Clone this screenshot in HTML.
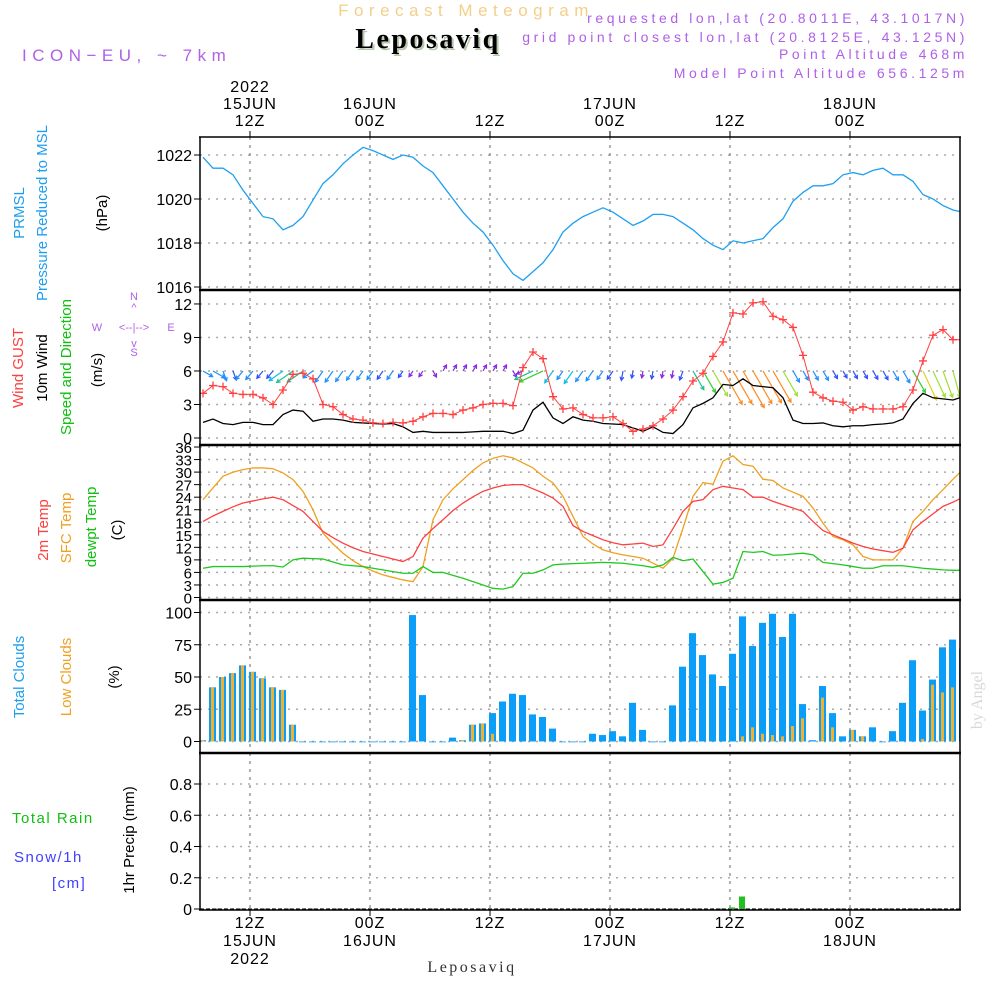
<!DOCTYPE html>
<html><head><meta charset="utf-8">
<style>
html,body{margin:0;padding:0;background:#fff;}
svg{display:block;font-family:"Liberation Sans",sans-serif;}
</style></head>
<body>
<svg id="chart" width="1000" height="1000" viewBox="0 0 1000 1000" xmlns="http://www.w3.org/2000/svg">
<defs><clipPath id="plotclip"><rect x="200" y="137" width="760" height="773"/></clipPath></defs>
<rect width="1000" height="1000" fill="#fff"/>
<text x="466" y="16" text-anchor="middle" font-size="17" fill="#f3cf8a" letter-spacing="5.5">Forecast Meteogram</text>
<text x="430" y="50" text-anchor="middle" font-size="28" font-weight="bold" font-family="Liberation Serif, serif" fill="#b8c8b0" letter-spacing="2.5">Leposaviq</text>
<text x="428" y="48" text-anchor="middle" font-size="28" font-weight="bold" font-family="Liberation Serif, serif" fill="#000" letter-spacing="2.5">Leposaviq</text>
<text x="22" y="61" font-size="17" fill="#b060e8" letter-spacing="5.5">ICON−EU, ~ 7km</text>
<g font-size="14" fill="#b060e8" text-anchor="end" letter-spacing="3.6">
<text x="968" y="23">requested lon,lat (20.8011E, 43.1017N)</text>
<text x="968" y="42">grid point closest lon,lat (20.8125E, 43.125N)</text>
<text x="968" y="59">Point Altitude 468m</text>
<text x="968" y="78">Model Point Altitude 656.125m</text>
</g>
<g font-size="15">
<text transform="translate(24,213) rotate(-90)" text-anchor="middle" fill="#1e9ef0">PRMSL</text>
<text transform="translate(47,213) rotate(-90)" text-anchor="middle" fill="#1e9ef0">Pressure Reduced to MSL</text>
<text transform="translate(107,213) rotate(-90)" text-anchor="middle" fill="#000">(hPa)</text>
<text transform="translate(23,368) rotate(-90)" text-anchor="middle" fill="#ff4040">Wind GUST</text>
<text transform="translate(47,368) rotate(-90)" text-anchor="middle" fill="#000">10m Wind</text>
<text transform="translate(71,367) rotate(-90)" text-anchor="middle" fill="#10c010">Speed and Direction</text>
<text transform="translate(102,370) rotate(-90)" text-anchor="middle" fill="#000">(m/s)</text>
<text transform="translate(48,530) rotate(-90)" text-anchor="middle" fill="#ff4040">2m Temp</text>
<text transform="translate(71,528) rotate(-90)" text-anchor="middle" fill="#f0a020">SFC Temp</text>
<text transform="translate(96,527) rotate(-90)" text-anchor="middle" fill="#10c010">dewpt Temp</text>
<text transform="translate(122,530) rotate(-90)" text-anchor="middle" fill="#000">(C)</text>
<text transform="translate(24,677) rotate(-90)" text-anchor="middle" fill="#1e9ef0">Total Clouds</text>
<text transform="translate(71,677) rotate(-90)" text-anchor="middle" fill="#f0a020">Low Clouds</text>
<text transform="translate(119,677) rotate(-90)" text-anchor="middle" fill="#000">(%)</text>
<text transform="translate(134,840) rotate(-90)" text-anchor="middle" fill="#000">1hr Precip (mm)</text>
<text x="12" y="823" fill="#10c010" letter-spacing="1.5">Total  Rain</text>
<text x="14" y="862" fill="#4040ff" letter-spacing="1.5">Snow/1h</text>
<text x="52" y="888" fill="#4040ff" letter-spacing="1.5">[cm]</text>
</g>
<g font-size="11" fill="#b060e8">
<text x="134" y="300" text-anchor="middle">N</text>
<text x="134" y="311" text-anchor="middle">^</text>
<text x="97" y="331" text-anchor="middle">W</text>
<text x="134" y="331" text-anchor="middle">&lt;--|--&gt;</text>
<text x="171" y="331" text-anchor="middle">E</text>
<text x="134" y="347" text-anchor="middle">v</text>
<text x="134" y="356" text-anchor="middle">S</text>
</g>
<text x="472" y="972" text-anchor="middle" font-size="16" font-family="Liberation Serif, serif" fill="#333" letter-spacing="2.5">Leposaviq</text>
<text transform="translate(982,700) rotate(-90)" text-anchor="middle" font-size="16" font-family="Liberation Serif, serif" fill="#d8d8d8">by Angel</text>
<g id="plot"></g>
</svg>
<script>
const pressure=[1021.9,1021.4,1021.4,1021.1,1020.4,1019.8,1019.2,1019.1,1018.6,1018.8,1019.2,1019.95,1020.7,1021.1,1021.6,1022,1022.35,1022.2,1022,1021.8,1022,1021.9,1021.5,1021.2,1020.6,1020,1019.4,1018.9,1018.5,1017.9,1017.2,1016.6,1016.3,1016.7,1017.1,1017.7,1018.5,1018.9,1019.2,1019.4,1019.6,1019.4,1019.1,1018.8,1019,1019.3,1019.3,1019.2,1018.9,1018.6,1018.2,1017.9,1017.7,1018.1,1018,1018.1,1018.2,1018.7,1019.1,1019.9,1020.3,1020.6,1020.6,1020.7,1021.1,1021.2,1021.1,1021.3,1021.4,1021.1,1021.1,1020.8,1020.2,1020,1019.7,1019.5,1019.4];
const gust=[4,4.7,4.6,4,3.9,3.9,3.6,3,4.3,5.7,5.8,5.3,3,2.8,2.1,1.7,1.6,1.35,1.3,1.4,1.35,1.5,1.9,2.2,2.2,2.1,2.5,2.7,3,3.1,3.1,2.9,6.3,7.7,7.1,3.7,2.6,2.7,2.1,1.8,1.8,1.9,1.3,0.6,0.8,1.1,1.7,2.5,3.7,5.1,5.8,7.3,8.6,11.2,11.1,12.1,12.2,10.9,10.6,9.9,7.4,4.1,3.6,3.3,3.2,2.5,2.8,2.6,2.6,2.6,2.8,4.3,6.9,9.2,9.7,8.8,8.8];
const wind10=[1.4,1.7,1.3,1.2,1.4,1.4,1.2,1.2,2.1,2.5,2.4,1.5,1.7,1.7,1.6,1.4,1.35,1.3,1.25,1.3,1,0.5,0.6,0.5,0.5,0.5,0.5,0.55,0.6,0.6,0.6,0.4,0.7,2.5,3.2,1.8,1.3,1.9,1.6,1.5,1.3,1.25,1.2,0.9,0.6,1,0.5,0.4,1.2,2.7,3.1,3.6,4.8,4.7,5.3,4.7,4.6,4.5,3.6,1.6,1.3,1.3,1.35,1.1,1,1.1,1.1,1.2,1.25,1.35,1.7,3.1,4,3.6,3.5,3.4,3.7];
const windDir=[120,120,160,160,220,220,220,220,235,235,235,235,215,215,215,215,215,215,215,215,215,215,215,150,30,30,30,30,30,30,30,150,245,245,245,215,215,215,215,215,215,215,190,190,190,190,190,190,200,150,150,150,150,150,150,150,150,150,150,150,150,150,150,150,150,150,150,150,150,150,150,150,155,155,160,165,170];
const temp2m=[18.2,19.5,20.6,21.7,22.6,23.1,23.6,24,23.4,22,20.6,18.2,15.8,14.3,13,11.9,11,10.4,9.8,9.2,8.6,9.8,14.2,16.5,18.6,20.8,22.6,24.1,25.4,26.2,26.8,27,27,26,25,23.8,21.8,17.2,15.8,14.8,13.8,13.1,12.6,12.8,13,12.2,12.6,16.5,20.6,23,23.4,25.8,26.6,26.2,25.8,24,24,23,22.2,21.4,20.6,18.2,16,15,14,13,12.2,11.6,11.2,10.8,11.8,16.2,18.2,20,21.8,22.8,24];
const tempSfc=[23.4,26.2,29,30,30.6,31,31,30.8,29.8,28.2,25.4,21,15.4,12.8,10.6,8.8,7.4,6.3,5.4,4.8,4.2,3.8,7.4,18.6,23.4,26,28.2,30.4,32.2,33.3,33.9,33.4,32.2,31,29,27.4,24.2,19.4,14.6,12.8,11.4,10.7,10.2,9.8,9.4,8.2,7,9.4,16.6,24.2,27.5,27.1,32.6,33.9,31.8,31.4,28.3,28,26.2,25.2,24.2,21.4,17.8,14.6,13.8,12.6,9.8,9,9,9,11.8,18.2,20.6,23.4,25.8,28.3,30.6];
const dewpt=[7,7.4,7.4,7.4,7.4,7.5,7.6,7.6,7.3,9,9.4,9.3,9.2,8.5,7.8,7.6,7.4,7,6.6,6.2,5.8,5.8,7.4,6,6,5.3,4.6,3.8,3,2.2,2,2.6,5.8,5.8,6.6,7.8,8,8.1,8.2,8.3,8.4,8.3,8.2,7.9,7.6,7.2,7.8,9.6,8.8,9.2,6.2,3.2,3.6,4.6,11,10.8,11,10.1,10.2,10.4,10.6,10.2,8.4,8.1,7.8,7.4,7,7,7.6,7.6,7.6,7.3,7,6.8,6.6,6.5,6.5];
const totalClouds=[1,42,50,53,59,54,49,42,40,13,0,0,0,0,0,0,0,0,0,0,0,98,36,0,0,3,1,13,14,22,31,37,36,21,19,10,0,0,0,6,5,8,4,30,9,0,0,28,58,84,67,52,43,68,97,74,92,99,81,99,29,1,43,22,4,9,4,11,0,8,30,63,24,48,73,79,72];
const lowClouds=[1,42,50,53,59,54,49,42,40,13,0,0,0,0,0,0,0,0,0,0,0,0,0,0,0,0,1,13,14,6,0,0,0,0,0,0,0,0,0,0,0,0,0,0,0,0,0,0,0,0,0,0,0,0,4,11,6,5,4,12,18,0,34,11,0,9,4,0,0,0,0,0,2,44,38,42,32];
const rain=[0,0,0,0,0,0,0,0,0,0,0,0,0,0,0,0,0,0,0,0,0,0,0,0,0,0,0,0,0,0,0,0,0,0,0,0,0,0,0,0,0,0,0,0,0,0,0,0,0,0,0,0,0,0.01,0.08,0,0,0,0,0,0,0,0,0,0,0,0,0,0,0,0,0,0,0,0,0,0];
const pressTicks=[1016,1018,1020,1022];
const windTicks=[0,3,6,9,12];
const tempTicks=[0,3,6,9,12,15,18,21,24,27,30,33,36];
const cloudTicks=[0,25,50,75,100];
const precipTicks=[0,0.2,0.4,0.6,0.8];
const timeTicks=[5,17,29,41,53,65];
const timeTop=[["12Z","15JUN","2022"],["00Z","16JUN"],["12Z"],["00Z","17JUN"],["12Z"],["00Z","18JUN"]];

const NS="http://www.w3.org/2000/svg";
const g=document.getElementById('plot');
const L=200,R=960;
const xAt=i=>L+3+i*10;
const yP=v=>287-(v-1016)*22;
const yW=v=>438-v*11.17;
const yT=v=>597.5-v*4.18;
const yC=v=>741.5-v*1.29;
const yR=v=>909-v*156.25;
function el(tag,attrs,parent){const e=document.createElementNS(NS,tag);for(const k in attrs)e.setAttribute(k,attrs[k]);(parent||g).appendChild(e);return e;}

const panels=[[137,290,pressTicks,yP,v=>String(v)],[290,445,windTicks,yW,v=>String(v)],[445,600,tempTicks,yT,v=>String(v)],[600,753,cloudTicks,yC,v=>String(v)],[753,910,precipTicks,yR,v=>v===0?"0":v.toFixed(1)]];
const panelNames=['pressure-panel','wind-panel','temperature-panel','clouds-panel','precip-panel'];
panels.forEach((p,pi)=>{
  const pg=el('g',{});
  
  
  const [top,bot,ticks,yf,fmt]=p;
  ticks.forEach(t=>{
    const y=yf(t);
    const gl=el('line',{x1:L,x2:R,y1:y,y2:y,stroke:'#aaa','stroke-width':1.5,'stroke-dasharray':'2,6'},pg);
    
    
    const tk=el('line',{x1:L-6,x2:L,y1:y,y2:y,stroke:'#000','stroke-width':1},pg);
    
    
    const tx=el('text',{x:L-8,y:y+6,'text-anchor':'end','font-size':pi===2?15:16,fill:'#000'},pg);
    tx.textContent=fmt(t);
    
    
  });
  timeTicks.forEach(h=>{
    const x=L+h*10;
    const vl=el('line',{x1:x,x2:x,y1:top,y2:bot,stroke:'#999','stroke-width':1.5,'stroke-dasharray':'3,5'},pg);
    
    
  });
});
timeTicks.forEach((h,k)=>{
  const x=L+h*10;
  const lab=timeTop[k];
  const t1=el('line',{x1:x,x2:x,y1:131,y2:137,stroke:'#000'});
  
  
  for(let j=0;j<lab.length;j++){
    const t=el('text',{x:x,y:126-17*j,'text-anchor':'middle','font-size':16,fill:'#000','letter-spacing':1});
    t.textContent=lab[j];
    
    
    const b=el('text',{x:x,y:928+18*j,'text-anchor':'middle','font-size':16,fill:'#000','letter-spacing':1});
    b.textContent=lab[j];
    
    
  }
});
const cg=el('g',{'clip-path':'url(#plotclip)'});


const pl=el('polyline',{points:pressure.map((v,i)=>xAt(i)+','+yP(v)).join(' '),fill:'none',stroke:'#1ea0f0','stroke-width':1.3},cg);


function windColor(s){
  if(s<0.8)return '#8a2be2';
  if(s<1.3)return '#3050ff';
  if(s<1.8)return '#1e90ff';
  if(s<2.2)return '#10c0e0';
  if(s<2.8)return '#20c090';
  if(s<3.3)return '#30d030';
  if(s<3.8)return '#a0e030';
  if(s<4.3)return '#e0d020';
  return '#ff8c20';
}
wind10.forEach((s,i)=>{
  const x0=xAt(i),y0=yW(6);
  const len=Math.max(7,8*s);
  const a=windDir[i]*Math.PI/180;
  const x1=x0+len*Math.sin(a),y1=y0-len*Math.cos(a);
  const c=windColor(s);
  const h=4,ang=Math.atan2(y1-y0,x1-x0);
  const p1=[x1-h*Math.cos(ang-0.5),y1-h*Math.sin(ang-0.5)],p2=[x1-h*Math.cos(ang+0.5),y1-h*Math.sin(ang+0.5)];
  const ar=el('path',{d:`M${x0},${y0}L${x1},${y1}M${p1[0]},${p1[1]}L${x1},${y1}L${p2[0]},${p2[1]}`,stroke:c,'stroke-width':1.2,fill:'none'},cg);
  
  
});
const wl=el('polyline',{points:wind10.map((v,i)=>xAt(i)+','+yW(v)).join(' '),fill:'none',stroke:'#000','stroke-width':1.3},cg);


const gl=el('polyline',{points:gust.map((v,i)=>xAt(i)+','+yW(v)).join(' '),fill:'none',stroke:'#ff4040','stroke-width':1},cg);


gust.forEach((v,i)=>{
  const x=xAt(i),y=yW(v);
  const m=el('path',{d:`M${x-4},${y}H${x+4}M${x},${y-4}V${y+4}`,stroke:'#ff4040','stroke-width':1.3},cg);
  
  
});
[[tempSfc,'#f0a020','sfc-temp-line'],[temp2m,'#ff4040','temp-2m-line'],[dewpt,'#20c820','dewpoint-line']].forEach(([arr,c,n])=>{
  const l=el('polyline',{points:arr.map((v,i)=>xAt(i)+','+yT(v)).join(' '),fill:'none',stroke:c,'stroke-width':1.3},cg);
  
  
});
totalClouds.forEach((v,i)=>{
  const x=xAt(i)-4;
  const b=el('rect',{x:x,y:yC(v),width:7,height:Math.max(0.8,yC(0)-yC(v)),fill:'#0a9ef8'},cg);
  
  
});
lowClouds.forEach((lv,i)=>{
  if(lv<=0)return;
  const x=xAt(i)-4;
  const b=el('rect',{x:x+2,y:yC(lv),width:3,height:yC(0)-yC(lv),fill:'#f0b030'},cg);
  
  
});
const zl=el('line',{x1:L,x2:R,y1:yR(0),y2:yR(0),stroke:'#000','stroke-width':1,'stroke-dasharray':'4,2'},cg);


rain.forEach((v,i)=>{
  if(v<=0)return;
  const b=el('rect',{x:xAt(i)-4,y:yR(v),width:6,height:yR(0)-yR(v),fill:'#20c020'},cg);
  
  
});
[137,290,445,600,753,910].forEach((y,k)=>{
  const f=el('line',{x1:L-1,x2:R+1,y1:y,y2:y,stroke:'#000','stroke-width':(k===0||k===5)?1.5:2.5});
  
  
});
const fl=el('line',{x1:L,x2:L,y1:137,y2:910,stroke:'#000','stroke-width':1.5});


const fr=el('line',{x1:R,x2:R,y1:137,y2:910,stroke:'#000','stroke-width':1.5});


timeTicks.forEach(h=>{
  const x=L+h*10;
  const t=el('line',{x1:x,x2:x,y1:910,y2:916,stroke:'#000'});
  
  
});
</script>
</body></html>
